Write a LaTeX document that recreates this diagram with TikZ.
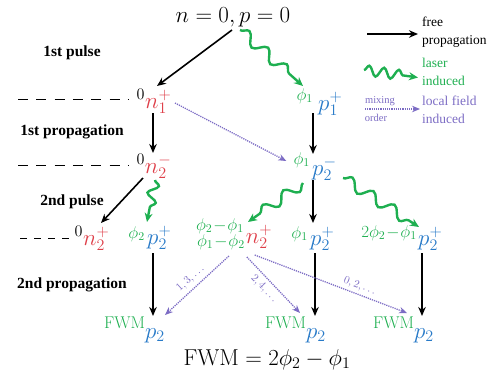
\RequirePackage{fix-cm}
\documentclass[tikz,border=0pt]{standalone}
\usepackage[no-math]{fontspec}
\setmainfont{Liberation Serif}
\usetikzlibrary{arrows.meta,decorations.pathmorphing,calc}
\definecolor{cred}{RGB}{222,62,72}
\definecolor{cblue}{RGB}{40,122,200}
\definecolor{cgreen}{RGB}{30,175,80}
\definecolor{cpurp}{RGB}{124,108,196}
\newcommand\FSsym{\fontsize{23}{27}\selectfont}
\newcommand\FSlab{\fontsize{17}{20}\selectfont}
\newcommand\FSbold{\fontsize{15.5}{18}\selectfont\bfseries}
\newcommand\FSleg{\fontsize{13.5}{18}\selectfont}
\newcommand\FSsmall{\fontsize{10.5}{12}\selectfont}
\newcommand\FSmix{\fontsize{11}{13}\selectfont}
\newcommand\FWMp{{\FSlab\color{cgreen}$\mathrm{FWM}$}\raisebox{-10pt}{\FSsym\color{cblue}$p_2$}}
\begin{document}
\begin{tikzpicture}[x=1pt,y=-1pt,
  every node/.style={inner sep=0pt},
  sym/.style={font=\FSsym},
  nsym/.style={sym,text=cred},
  psym/.style={sym,text=cblue},
  glab/.style={font=\FSlab,text=cgreen},
  stage/.style={font=\FSbold},
  leg/.style={font=\FSleg,align=left,anchor=west},
  free/.style={line width=1.6pt,-{Stealth[length=9pt,width=7.5pt]}},
  laser/.style={cgreen,line width=2.4pt,-{Stealth[length=9pt,width=8pt]},decorate,decoration={snake,amplitude=5.5pt,segment length=25pt,post length=8pt}},
  local/.style={cpurp,line width=1.3pt,dash pattern=on 1.2pt off 1pt,-{Stealth[length=8pt,width=6.5pt]}},
  ord/.style={font=\FSmix,text=cpurp,sloped},
  lvl/.style={line width=0.9pt,dash pattern=on 10pt off 8.3pt}
]
\useasboundingbox (0,0) rectangle (499,375);

\node[sym,anchor=base] (top) at (233,22) {$n=0,p=0$};
\node[sym,anchor=base] (eq) at (267,365) {$\mathrm{FWM}=2\phi_2-\phi_1$};

\node[stage] (s1) at (72,53) {1st pulse};
\node[stage] (s2) at (72,132) {1st propagation};
\node[stage] (s3) at (72,202) {2nd pulse};
\node[stage] (s4) at (72,285) {2nd propagation};

\draw[lvl] (18,99) -- (128,99);
\draw[lvl] (18,165) -- (128,165);
\draw[lvl,dash pattern=on 7pt off 7pt] (20,238) -- (75,238);

\node[nsym,anchor=base] (n1) at (154,108) {${}^{\color{black}0}n_1^+$};
\node[nsym,anchor=base] (n2a) at (154,173) {${}^{\color{black}0}n_2^-$};
\node[nsym,anchor=base] (n2b) at (92,245) {${}^{\color{black}0}n_2^+$};
\node[nsym,anchor=base] (n2c) at (259,243) {$n_2^+$};

\node[psym,anchor=base west] (p1) at (318,110) {$p_1^+$};
\node[psym,anchor=base west] (p2a) at (312,175) {$p_2^-$};
\node[psym,anchor=base west] (p2b) at (147,244) {$p_2^+$};
\node[psym,anchor=base west] (p2c) at (310,245) {$p_2^+$};
\node[psym,anchor=base west] (p2d) at (418,245) {$p_2^+$};

\node[glab,anchor=base east] (l1) at (313,100) {$\phi_1$};
\node[glab,anchor=base east] (l2) at (310,164) {$\phi_1$};
\node[glab,anchor=base east] (l3) at (145,238) {$\phi_2$};
\node[glab,anchor=base east] (l4) at (308,238) {$\phi_1$};
\node[glab,anchor=base east] (l5) at (417,237) {$2\phi_2\!-\!\phi_1$};
\node[glab,anchor=base east] (l6) at (244,230) {$\phi_2\!-\!\phi_1$};
\node[glab,anchor=base east] (l7) at (245,246) {$\phi_1\!-\!\phi_2$};

\node[anchor=base west] (f1) at (104,328) {\FWMp};
\node[anchor=base west] (f2) at (265,328) {\FWMp};
\node[anchor=base west] (f3) at (373,328) {\FWMp};

% legend
\node[leg] (lgA) at (422,32) {free\\propagation};
\node[leg,text=cgreen] (lgB) at (422,71.5) {laser\\induced};
\node[leg,text=cpurp] (lgC) at (422,110) {local field\\induced};
\node[font=\FSsmall,text=cpurp] (mx) at (380,101) {mixing};
\node[font=\FSsmall,text=cpurp] (mo) at (376,118) {order};
\coordinate (lgAs) at (367,34);
\coordinate (lgBs) at (364,70);
\coordinate (lgCs) at (365,109);
\draw[free] (lgAs) -- ([shift={(-4,2)}]lgA.west);
\draw[laser,decoration={segment length=15pt,amplitude=5pt}] (lgBs) -- ([shift={(-4,6)}]lgB.west);
\draw[local] (lgCs) -- ([shift={(-2,-1)}]lgC.west);

% connectors
\draw[free] ([shift={(-1,8)}]top.base) -- ([shift={(3,-22)}]n1.base);
\draw[laser] ([shift={(7,8)}]top.base) -- ([shift={(-10,-14)}]l1.base east);
\draw[free] ([shift={(-1,5)}]n1.base) -- ([shift={(-1,-20)}]n2a.base);
\draw[local] ([shift={(21,-5)}]n1.base) -- ([shift={(-7,-3)}]l2.base west);
\draw[free] ([shift={(-5,3)}]p1.base west) -- ([shift={(1,-21)}]p2a.base west);
\draw[free] ([shift={(1,5)}]p2a.base west) -- ([shift={(3,-22)}]p2c.base west);
\draw[free] ([shift={(-11,5)}]n2a.base) -- ([shift={(9,-22)}]n2b.base);
\draw[laser,decoration={segment length=17pt,amplitude=5pt}] ([shift={(1,7)}]n2a.base) -- ([shift={(0,-22)}]p2b.base west);
\draw[laser] ([shift={(-9,8)}]p2a.base west) -- ([shift={(4,-8)}]l6.base east);
\draw[laser] ([shift={(31,3)}]p2a.base west) -- ([shift={(1,-18)}]p2d.base west);
\draw[free] ([shift={(6,9)}]p2b.base west) -- ([shift={(49,-12)}]f1.base west);
\draw[free] ([shift={(5,8)}]p2c.base west) -- ([shift={(50,-12)}]f2.base west);
\draw[free] ([shift={(4,8)}]p2d.base west) -- ([shift={(49,-12)}]f3.base west);
\draw[local] ([shift={(32,10)}]l7.base west) -- node[ord,above=4pt]{$1,3,\dots$} ([shift={(61,-13)}]f1.base west);
\draw[local] ([shift={(50,11)}]l7.base west) -- node[ord,below=4pt,pos=0.45]{$2,4,\dots$} ([shift={(35,-15)}]f2.base west);
\draw[local] ([shift={(9,12)}]n2c.base west) -- node[ord,above=3pt,pos=0.67]{$0,2,\dots$} ([shift={(34,-15)}]f3.base west);
\end{tikzpicture}
\end{document}
